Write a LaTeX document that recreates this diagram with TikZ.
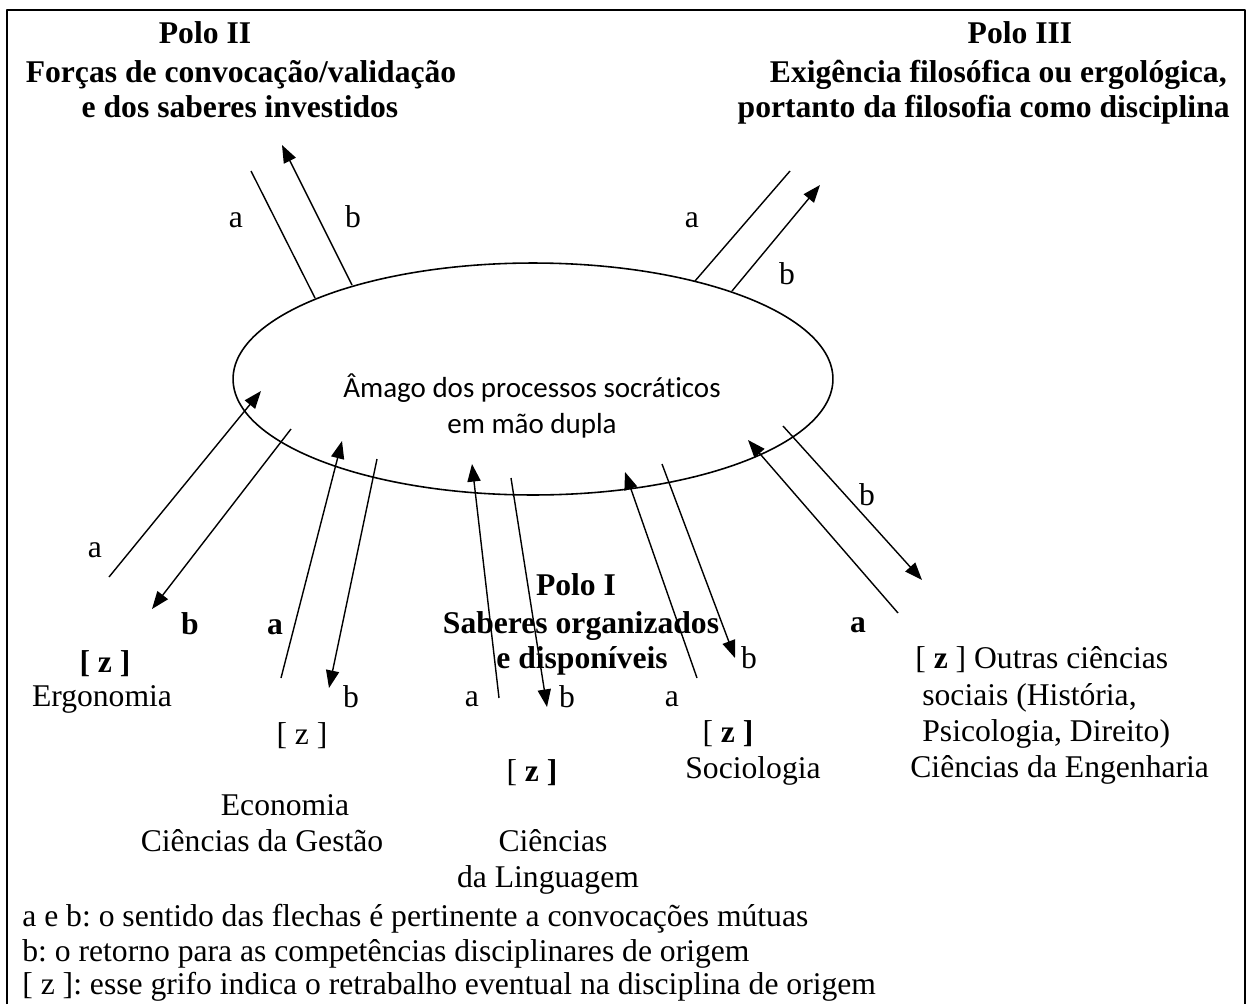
\documentclass[tikz,border=0pt]{standalone}
\usepackage{fontspec}
\setmainfont{Liberation Serif}
\newfontfamily\coresans[Ligatures=NoCommon]{Carlito}
\usetikzlibrary{shapes.geometric,arrows.meta}
\frenchspacing

\begin{document}
\begin{tikzpicture}[x=0.02cm, y=-0.02cm, line join=round, >={Triangle[length=10pt,width=7.5pt]},
  lbl/.style={font=\fontsize{18}{18}\selectfont, inner sep=0pt, anchor=base},
  ttl/.style={lbl, font=\fontsize{18}{18}\selectfont\bfseries},
  link/.style={line width=0.8pt},
  core/.style={draw, ellipse, line width=0.9pt, minimum width=12cm, minimum height=4.64cm, inner sep=0pt}]
  \useasboundingbox (0,0) rectangle (1250,1004);
  \draw[line width=1.4pt] (7,1004) -- (7,10) -- (1245,10) -- (1245,1004);

  % nucleo
  \node[core] (amago) at (533,379) {};
  \node[lbl, font=\coresans\fontsize{16.5}{16.5}\selectfont] (amago1) at (532,397) {Âmago dos processos socráticos};
  \node[lbl, font=\coresans\fontsize{16.5}{16.5}\selectfont] (amago2) at (532,433) {em mão dupla};

  % ligacoes sem ponta
  \foreach \n/\sx/\sy/\ex/\ey in {p2a/315/298/251/171, p3a/695/281/790/171}{
    \coordinate (\n0) at (\sx,\sy);
    \coordinate (\n1) at (\ex,\ey);
    \draw[link] (\n0) -- (\n1);
  }
  % ligacoes com ponta
  \foreach \n/\sx/\sy/\ex/\ey in {p2b/352/285/282/145, p3b/732/291/820/185,
      erga/109/577/261/391, ergb/291/429/152/609,
      ecoa/281/678/342/441, ecob/377/459/329/688,
      lina/499/698/472/464, linb/511/478/547/707,
      soca/697/678/625/472, socb/662/464/735/658,
      outa/898/613/748/440, outb/783/426/922/580}{
    \coordinate (\n0) at (\sx,\sy);
    \coordinate (\n1) at (\ex,\ey);
    \draw[link,->] (\n0) -- (\n1);
  }

  % rotulos a / b
  \foreach \t/\x/\y [count=\i] in {a/236/227, b/353/227, a/692/227, b/787/284,
      a/95/557, b/351/707, a/472/706, b/567/707, a/672/706, b/749/668, b/867/505}
    \node[lbl] (ab\i) at (\x,\y) {\t};
  \foreach \t/\x/\y [count=\i] in {b/190/634, a/275/634, a/858/632}
    \node[ttl] (abb\i) at (\x,\y) {\t};

  % polos
  \node[ttl] (polo2) at (205,43) {Polo II};
  \node[ttl] (polo2a) at (241,82) {Forças de convocação/validação};
  \node[ttl] (polo2b) at (240,117) {e dos saberes investidos};
  \node[ttl] (polo3) at (1020,43) {Polo III};
  \node[ttl, anchor=base east] (polo3a) at (1227,82) {Exigência filosófica ou ergológica,};
  \node[ttl, anchor=base east] (polo3b) at (1230,117) {portanto da filosofia como disciplina};
  \node[ttl] (polo1) at (576,595) {Polo I};
  \node[ttl] (polo1a) at (581,633) {Saberes organizados};
  \node[ttl] (polo1b) at (582,668) {e disponíveis};

  % disciplinas
  \node[ttl] (zerg) at (105,672) {[ z ]};
  \node[lbl] (erg) at (102,706) {Ergonomia};
  \node[lbl] (zeco) at (302,744) {[ z ]};
  \node[lbl] (eco1) at (285,815) {Economia};
  \node[lbl] (eco2) at (262,851) {Ciências da Gestão};
  \node[lbl] (zlin) at (532,781) {[ \textbf{z ]}};
  \node[lbl] (lin1) at (553,851) {Ciências};
  \node[lbl] (lin2) at (548,887) {da Linguagem};
  \node[lbl] (zsoc) at (728,742) {[ \textbf{z ]}};
  \node[lbl] (soc) at (753,778) {Sociologia};
  \node[lbl, anchor=base west] (out1) at (915,668) {[ \textbf{z} ] Outras ciências};
  \node[lbl, anchor=base west] (out2) at (922,705) {sociais (História,};
  \node[lbl, anchor=base west] (out3) at (922,741) {Psicologia, Direito)};
  \node[lbl, anchor=base west] (eng) at (910,777) {Ciências da Engenharia};

  % legenda
  \node[lbl, anchor=base west] (leg1) at (22,926) {a e b: o sentido das flechas é pertinente a convocações mútuas};
  \node[lbl, anchor=base west] (leg2) at (22,961) {b: o retorno para as competências disciplinares de origem};
  \node[lbl, anchor=base west] (leg3) at (22,994) {[ z ]: esse grifo indica o retrabalho eventual na disciplina de origem};
\end{tikzpicture}
\end{document}
